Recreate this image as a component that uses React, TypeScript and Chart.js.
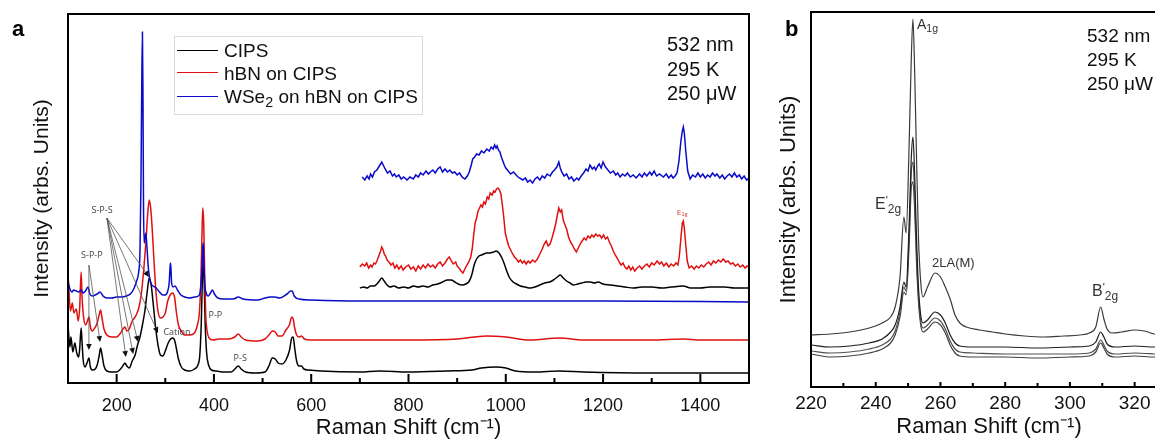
import React, { useEffect, useRef } from 'react';
import { Chart, registerables } from 'chart.js';

Chart.register(...registerables);

const FONT = "'Liberation Sans', Arial, Helvetica, sans-serif";
const SMALL_FONT = "'Open Sans', 'Liberation Sans', sans-serif";

// ---------------- Panel a: Raman spectra (100-1500 cm-1) ----------------
const panelATicks = [200, 400, 600, 800, 1000, 1200, 1400];
const panelAMinorTicks = [100, 300, 500, 700, 900, 1100, 1300, 1500];

const cipsShift = [100,104,106,110,114,118,122,124,127,129,131,135,139,143,146,150,156,160,164,167,170,174,180,190,200,208,214,217,221,226,232,238,243,248,253,258,263,267,271,275,280,285,290,295,300,306,311,315,319,323,327,333,340,350,360,367,371,374,376,378,380,382,385,389,395,405,420,435,443,450,456,465,485,505,513,520,526,532,540,548,555,560,563,566,570,575,580,585,595,620,700,740,800,880,930,950,980,1000,1020,1060,1110,1160,1300,1500];
const cipsIntensity = [58,36,46,31,40,30,26,34,55,40,24,16,20,25,16,13,14,18,27,35,28,17,12,11,11,14,18,20,17,15,22,28,38,46,58,72,92,105,98,80,56,38,28,27,32,40,44,45,43,34,24,16,13,12,14,18,28,60,100,122,100,60,30,18,13,12,11,11,14,17,14,11,10,11,17,25,24,20,19,23,32,45,46,35,22,17,17,14,13,12,11,12,11,12,13,15,16,15,12,11,12,11,10,10];

const hbnShift = [100,102,105,109,112,117,121,124,127,129,132,136,140,143,146,150,155,160,164,167,170,174,180,190,200,208,213,217,221,226,232,238,242,246,251,256,260,264,267,270,273,277,281,285,290,295,300,305,310,315,319,323,327,333,340,350,360,366,370,373,375,377,379,381,383,386,390,398,410,430,443,450,456,465,490,505,513,520,526,532,540,548,555,560,563,566,570,575,580,586,600,700,800,900,960,1000,1050,1110,1160,1300,1365,1400,1500];
const hbnIntensity = [110,92,72,80,70,74,62,75,111,85,66,58,62,66,56,52,55,60,68,73,65,54,48,46,46,50,54,56,52,54,62,66,70,76,90,115,140,170,183,175,155,120,90,72,65,66,70,82,88,90,86,70,58,52,48,48,50,58,70,100,140,175,160,110,70,52,45,43,44,44,46,49,46,43,42,44,48,52,51,47,47,53,58,66,64,55,48,46,47,44,43,43,43,44,47,46,43,45,43,43,44,43,43];

const wse2Shift = [100,104,108,112,117,122,127,131,136,141,145,150,156,160,166,172,180,190,200,210,220,230,236,241,245,248,250,251.5,253,254.2,255.2,256.5,258.5,260,262,265,270,275,281,288,295,300,305,308,310,311,313,316,320,325,332,340,350,360,368,372,375,377,378,379,381,384,388,393,397,401,408,420,440,450,460,490,505,515,525,535,550,558,561,565,575,600,700,800,900,1000,1200,1500];
const wse2Intensity = [101,94,91,93,92,91,93,90,92,96,89,87,88,89,91,87,85,85,86,86,87,90,95,102,110,132,200,290,351,280,180,140,146,150,138,116,100,97,95,91,88,88,92,100,117,120,100,96,97,93,88,86,85,86,87,92,110,135,140,125,100,90,87,90,93,89,85,84,84,86,84,83,85,86,86,85,89,92,92,87,84,83,82,82,82,82,82,81];

// magnified (offset) high-wavenumber insets
const cipsInsetShift = [700,708,715,722,730,735,740,745,750,756,762,770,780,790,800,810,820,830,840,850,860,870,880,888,895,902,910,918,925,930,935,940,945,950,955,960,967,975,980,986,992,997,1002,1008,1015,1022,1030,1040,1050,1060,1070,1080,1090,1098,1106,1112,1118,1125,1132,1139,1148,1156,1165,1174,1182,1190,1200,1215,1230,1245,1263,1280,1300,1320,1340,1365,1380,1400,1420,1450,1470,1500];
const cipsInsetIntensity = [95,96,95,97,97,99,102,105,102,98,96,97,95,96,95,97,96,97,96,98,99,101,103,103,101,99,98,99,102,108,118,124,127,128,129,130,130,131,132,130,125,119,112,105,101,99,97,96,95,96,98,100,101,103,106,108,105,102,100,98,99,100,101,101,100,101,99,98,97,96,95,96,96,95,96,97,95,95,96,96,95,95];

const hbnInsetShift = [700,705,710,714,718,722,725,729,732,735,738,742,745,748,750,753,756,760,764,768,772,776,780,785,789,794,800,805,810,815,820,825,830,835,840,845,850,855,860,865,870,875,880,884,888,892,897,900,904,908,912,916,920,924,928,931,934,937,940,943,946,949,952,955,958,962,965,968,972,975,978,981,984,987,990,993,996,999,1002,1006,1010,1014,1018,1022,1026,1030,1034,1038,1042,1046,1050,1055,1060,1065,1070,1075,1079,1083,1087,1091,1095,1099,1103,1106,1109,1112,1115,1118,1121,1125,1129,1133,1137,1141,1145,1149,1153,1157,1161,1165,1169,1173,1177,1181,1185,1189,1193,1197,1201,1205,1209,1213,1217,1221,1225,1229,1233,1237,1241,1245,1249,1253,1257,1261,1265,1270,1275,1280,1285,1290,1295,1300,1305,1311,1316,1320,1325,1330,1335,1340,1345,1350,1354,1357,1360,1363,1365,1367,1370,1373,1377,1382,1387,1392,1397,1402,1407,1412,1417,1422,1427,1432,1437,1442,1447,1452,1457,1462,1467,1472,1477,1482,1487,1492,1496,1500];
const hbnInsetIntensity = [116,119,117,120,115,118,116,120,119,122,126,131,136,133,129,127,123,121,118,120,115,118,114,117,113,116,118,114,116,112,117,114,118,115,119,116,118,115,119,121,117,120,124,126,122,119,121,117,115,112,110,114,118,121,126,134,148,160,165,172,175,178,176,181,179,186,184,190,188,192,191,194,195,193,189,178,165,150,144,137,133,129,126,124,121,123,120,122,119,122,120,123,121,124,129,134,139,142,137,139,145,152,160,168,175,171,173,163,159,154,146,141,138,134,131,135,139,142,145,143,147,145,148,146,149,147,148,145,148,144,146,141,137,132,128,125,121,118,120,116,114,117,113,116,112,115,117,114,117,119,116,120,118,122,119,121,117,120,116,119,117,120,118,128,145,160,162,155,138,122,115,117,114,117,115,118,116,119,121,118,122,120,123,121,124,121,122,119,120,117,119,116,118,115,117,116];

const wse2InsetShift = [705,710,715,719,722,726,730,735,740,745,749,752,757,762,767,771,775,780,785,790,797,803,810,815,820,825,830,836,841,845,850,855,860,865,870,875,880,885,890,895,900,905,910,916,921,925,929,932,936,940,945,950,955,961,966,970,974,977,980,982,985,988,991,994,997,1000,1005,1010,1016,1023,1028,1035,1040,1045,1050,1055,1060,1065,1070,1075,1080,1085,1091,1096,1100,1105,1109,1112,1115,1120,1125,1130,1135,1140,1146,1150,1155,1160,1165,1169,1173,1178,1182,1185,1189,1192,1196,1200,1205,1210,1215,1221,1226,1230,1235,1240,1245,1250,1256,1262,1268,1275,1280,1285,1290,1296,1300,1305,1310,1316,1324,1330,1335,1340,1344,1348,1352,1356,1360,1363,1365,1367,1370,1374,1379,1384,1390,1395,1400,1405,1410,1415,1420,1425,1430,1434,1440,1445,1450,1455,1460,1465,1470,1475,1480,1485,1490,1495,1500];
const wse2InsetIntensity = [206,203,207,204,209,206,211,213,217,221,217,214,210,212,207,209,206,208,204,206,203,206,204,208,206,210,208,212,209,211,213,210,214,216,211,214,211,213,210,211,208,210,206,204,207,211,218,224,226,229,228,232,230,234,232,236,234,238,235,237,233,231,226,222,218,215,212,209,211,207,205,203,205,201,203,200,204,206,203,207,205,209,207,211,213,216,221,215,211,207,209,204,206,202,205,203,207,210,214,212,218,214,216,213,217,219,215,221,216,213,210,212,208,210,206,209,207,210,206,208,205,209,206,210,207,211,208,212,207,209,206,209,205,208,205,207,210,222,242,252,256,250,232,212,204,208,206,210,206,209,205,208,206,210,207,209,205,208,204,207,209,206,210,206,208,204,207,203,205];

// peak labels and arrows of panel a (data coordinates)
const peakLabelText = ['S-P-S', 'S-P-P', 'Cation', 'P-P', 'P-S'];
const peakLabelShift = [170, 149, 324, 403, 454];
const peakLabelIntensity = [173, 128, 51, 68, 24.5];
const arrowFromShift = [143, 143, 180, 180, 180, 180, 180];
const arrowFromIntensity = [118, 118, 165, 165, 165, 165, 165];
const arrowToShift = [143, 166, 219, 234, 244, 266.5, 285];
const arrowToIntensity = [33, 41, 26, 29, 41, 106, 50];

// ---------------- Panel b: WSe2 detail (220-330 cm-1) ----------------
const panelBTicks = [220, 240, 260, 280, 300, 320];
const panelBMinorTicks = [230, 250, 270, 290, 310, 330];

const bShiftTop = [220,226,232,238,242,244.6,246,247.5,248.7,249.4,250.3,251,251.5,252,252.6,253.2,253.9,254.6,256,258.3,260,261.5,263,264.5,266,268,272,276,280,286,292,298,303,306,308,309.5,310.5,311.5,313,316,320,323,326,330];
const bIntensityTop = [52,53,55,59,64,70,80,110,170,154,240,330,368,320,230,150,105,90,100,114,110,100,88,72,64,60,57,55,53,51,50,51,52,54,60,80,68,58,54,55,57,56,53,51];

const bShiftLower = [220,226,232,238,242,244.6,246,247.5,248.7,249.4,250.3,251,251.5,252,252.6,253.2,253.9,254.6,256,258.3,260,261.5,263,264.5,266,270,280,290,300,306,308,309.5,310.5,311.5,314,320,326,330];
const bIntensity2 = [42,40,41,44,48,55,62,80,105,100,160,230,250,215,150,100,72,64,67,75,72,64,52,44,41,40,40,39,40,41,45,55,50,43,40,41,40,40];
const bIntensity3 = [36,34,35,38,42,48,56,75,100,96,150,215,225,195,135,92,66,59,62,69,66,58,46,38,35,34,33,33,33,34,38,47,42,36,33,34,33,32];
const bIntensity4 = [33,30,31,34,38,44,52,70,95,92,140,200,205,180,125,86,62,55,58,65,62,54,42,34,31,30,30,29,30,31,35,44,39,33,30,31,30,30];

const BLACK = '#000000';
const RED = '#e01010';
const BLUE = '#0a0ac8';

const pts = (xs: number[], ys: number[]) => xs.map((x, i) => ({ x, y: ys[i] }));

const line = (label: string, xs: number[], ys: number[], color: string, order: number, width = 1.5, smooth = true) => ({
  label,
  data: pts(xs, ys),
  borderColor: color,
  backgroundColor: color,
  borderWidth: width,
  pointRadius: 0,
  fill: false,
  tension: 0,
  cubicInterpolationMode: smooth ? ('monotone' as const) : ('default' as const),
  order,
});

const framePlugin = (major: number[], minor: number[], majorLen: number, minorLen: number) => ({
  id: 'frameTicks',
  afterDatasetsDraw(chart: any) {
    const { ctx, chartArea } = chart;
    const { left, top, right, bottom } = chartArea;
    const xs = chart.scales.x;
    ctx.save();
    ctx.strokeStyle = '#000';
    ctx.lineWidth = 2;
    ctx.strokeRect(left, top, right - left, bottom - top);
    ctx.beginPath();
    major.forEach((v) => {
      const p = xs.getPixelForValue(v);
      ctx.moveTo(p, bottom);
      ctx.lineTo(p, bottom - majorLen);
    });
    minor.forEach((v) => {
      const p = xs.getPixelForValue(v);
      ctx.moveTo(p, bottom);
      ctx.lineTo(p, bottom - minorLen);
    });
    ctx.stroke();
    ctx.restore();
  },
});

const annotationPlugin = {
  id: 'peakAnnotations',
  afterDatasetsDraw(chart: any) {
    const { ctx } = chart;
    const xs = chart.scales.x;
    const ys = chart.scales.y;
    ctx.save();
    arrowFromShift.forEach((fx, i) => {
      const x0 = xs.getPixelForValue(fx);
      const y0 = ys.getPixelForValue(arrowFromIntensity[i]);
      const x1 = xs.getPixelForValue(arrowToShift[i]);
      const y1 = ys.getPixelForValue(arrowToIntensity[i]);
      const ang = Math.atan2(y1 - y0, x1 - x0);
      const hl = 6;
      const bx = x1 - hl * Math.cos(ang);
      const by = y1 - hl * Math.sin(ang);
      ctx.strokeStyle = '#555';
      ctx.lineWidth = 0.8;
      ctx.beginPath();
      ctx.moveTo(x0, y0);
      ctx.lineTo(bx, by);
      ctx.stroke();
      ctx.fillStyle = '#111';
      ctx.beginPath();
      ctx.moveTo(x1, y1);
      ctx.lineTo(bx + 2.8 * Math.sin(ang), by - 2.8 * Math.cos(ang));
      ctx.lineTo(bx - 2.8 * Math.sin(ang), by + 2.8 * Math.cos(ang));
      ctx.closePath();
      ctx.fill();
    });
    ctx.fillStyle = '#444';
    ctx.font = `9px ${SMALL_FONT}`;
    ctx.textAlign = 'center';
    ctx.textBaseline = 'middle';
    peakLabelText.forEach((t, i) => {
      ctx.fillText(t, xs.getPixelForValue(peakLabelShift[i]), ys.getPixelForValue(peakLabelIntensity[i]));
    });
    const ex = xs.getPixelForValue(1362);
    const ey = ys.getPixelForValue(170);
    ctx.fillStyle = '#d03030';
    ctx.font = `8px ${SMALL_FONT}`;
    ctx.textAlign = 'left';
    ctx.fillText('E', ex - 5, ey);
    ctx.font = `5px ${SMALL_FONT}`;
    ctx.fillText('2g', ex, ey + 2);
    ctx.restore();
  },
};

const plainTick = (v: any) => String(v);

function PanelA() {
  const ref = useRef<HTMLCanvasElement | null>(null);
  useEffect(() => {
    if (!ref.current) return;
    const chart = new Chart(ref.current, {
      type: 'line',
      data: {
        datasets: [
          line('CIPS', cipsShift, cipsIntensity, BLACK, 2),
          line('hBN on CIPS', hbnShift, hbnIntensity, RED, 1),
          line('WSe2 on hBN on CIPS', wse2Shift, wse2Intensity, BLUE, 0),
          line('CIPS (x)', cipsInsetShift, cipsInsetIntensity, BLACK, 2, 1.5, true),
          line('hBN on CIPS (x)', hbnInsetShift, hbnInsetIntensity, RED, 1, 1.5, false),
          line('WSe2 on hBN on CIPS (x)', wse2InsetShift, wse2InsetIntensity, BLUE, 0, 1.5, false),
        ],
      },
      options: {
        responsive: false,
        animation: false,
        devicePixelRatio: 1,
        layout: { padding: { left: 0, top: 14, right: 11, bottom: 0 } },
        plugins: { legend: { display: false }, tooltip: { enabled: false } },
        scales: {
          x: {
            type: 'linear',
            min: 100,
            max: 1500,
            grid: { display: false, drawTicks: false },
            border: { display: false },
            afterBuildTicks: (s: any) => {
              s.ticks = panelATicks.map((v) => ({ value: v }));
            },
            afterFit: (s: any) => {
              s.height = 56;
            },
            ticks: { color: '#111', font: { size: 18, family: FONT }, padding: 12, maxRotation: 0, autoSkip: false, callback: plainTick },
            title: {
              display: true,
              text: 'Raman Shift (cm⁻¹)',
              color: '#111',
              font: { size: 22, family: FONT },
              padding: { top: 0, bottom: -2 },
            },
          },
          y: {
            type: 'linear',
            min: 0,
            max: 369,
            grid: { display: false, drawTicks: false },
            border: { display: false },
            ticks: { display: false },
            afterFit: (s: any) => {
              s.width = 68;
            },
            title: {
              display: true,
              text: 'Intensity (arbs. Units)',
              color: '#111',
              font: { size: 21, family: FONT },
              padding: { top: 30, bottom: 0 },
            },
          },
        },
      },
      plugins: [framePlugin(panelATicks, panelAMinorTicks, 9, 5), annotationPlugin],
    } as any);
    return () => chart.destroy();
  }, []);
  return <canvas ref={ref} width={760} height={439} style={{ position: 'absolute', left: 0, top: 0 }} />;
}

function PanelB() {
  const ref = useRef<HTMLCanvasElement | null>(null);
  useEffect(() => {
    if (!ref.current) return;
    const chart = new Chart(ref.current, {
      type: 'line',
      data: {
        datasets: [
          line('spectrum 1', bShiftTop, bIntensityTop, '#3a3a3a', 3, 1.2),
          line('spectrum 2', bShiftLower, bIntensity2, '#1e1e1e', 0, 1.2),
          line('spectrum 3', bShiftLower, bIntensity3, '#505050', 1, 1.2),
          line('spectrum 4', bShiftLower, bIntensity4, '#404040', 2, 1.2),
        ],
      },
      options: {
        responsive: false,
        animation: false,
        devicePixelRatio: 1,
        layout: { padding: { left: 0, top: 12, right: 13, bottom: 0 } },
        plugins: { legend: { display: false }, tooltip: { enabled: false } },
        scales: {
          x: {
            type: 'linear',
            min: 220,
            max: 330,
            grid: { display: false, drawTicks: false },
            border: { display: false },
            afterBuildTicks: (s: any) => {
              s.ticks = panelBTicks.map((v) => ({ value: v }));
            },
            afterFit: (s: any) => {
              s.height = 52;
            },
            ticks: { color: '#111', font: { size: 19, family: FONT }, padding: 5, maxRotation: 0, autoSkip: false, callback: plainTick },
            title: {
              display: true,
              text: 'Raman Shift (cm⁻¹)',
              color: '#111',
              font: { size: 22, family: FONT },
              padding: { top: 0, bottom: -1 },
            },
          },
          y: {
            type: 'linear',
            min: 0,
            max: 375,
            grid: { display: false, drawTicks: false },
            border: { display: false },
            ticks: { display: false },
            afterFit: (s: any) => {
              s.width = 51;
            },
            title: {
              display: true,
              text: 'Intensity (arbs. Units)',
              color: '#111',
              font: { size: 22, family: FONT },
              padding: { top: 16, bottom: 0 },
            },
          },
        },
      },
      plugins: [framePlugin(panelBTicks, panelBMinorTicks, 5, 4)],
    } as any);
    return () => chart.destroy();
  }, []);
  return <canvas ref={ref} width={420} height={439} style={{ position: 'absolute', left: 760, top: 0 }} />;
}

const abs = (left: number, top: number, size: number, extra: React.CSSProperties = {}): React.CSSProperties => ({
  position: 'absolute',
  left,
  top,
  fontSize: size,
  lineHeight: 1,
  fontFamily: FONT,
  color: '#111',
  whiteSpace: 'nowrap',
  ...extra,
});

const subStyle: React.CSSProperties = { fontSize: '0.75em', position: 'relative', top: '0.3em' };
const supStyle: React.CSSProperties = { fontSize: '0.7em', position: 'relative', top: '-0.45em' };

const legendEntries = [
  { color: BLACK, label: <>CIPS</> },
  { color: RED, label: <>hBN on CIPS</> },
  { color: BLUE, label: <>WSe<span style={subStyle}>2</span> on hBN on CIPS</> },
];
const legendLineY = [50, 72, 96];
const legendTextTop = [41, 64, 87];
const conditions = ['532 nm', '295 K', '250 μW'];

export default function App() {
  return (
    <div style={{ position: 'fixed', left: 0, top: 0, width: 1155, height: 439, overflow: 'hidden', background: '#fff' }}>
      <PanelA />
      <PanelB />
      <div style={abs(12, 18, 22, { fontWeight: 'bold', color: '#000' })}>a</div>
      <div style={abs(785, 18, 22, { fontWeight: 'bold', color: '#000' })}>b</div>
      <div style={{ position: 'absolute', left: 174, top: 36, width: 247, height: 77, border: '1px solid #dcdcdc', background: 'rgba(255,255,255,0.9)' }} />
      {legendEntries.map((e, i) => (
        <React.Fragment key={i}>
          <div style={{ position: 'absolute', left: 177, top: legendLineY[i], width: 41, borderTop: `1.5px solid ${e.color}` }} />
          <div style={abs(224, legendTextTop[i], 19)}>{e.label}</div>
        </React.Fragment>
      ))}
      {conditions.map((c, i) => (
        <div key={'a' + i} style={abs(667, 34 + i * 24.5, 20)}>{c}</div>
      ))}
      {conditions.map((c, i) => (
        <div key={'b' + i} style={abs(1087, 26 + i * 24, 19)}>{c}</div>
      ))}
      <div style={abs(917, 17, 14, { color: '#333' })}>A<span style={subStyle}>1g</span></div>
      <div style={abs(875, 196, 16, { color: '#333' })}>E<span style={supStyle}>'</span><span style={subStyle}>2g</span></div>
      <div style={abs(932, 256, 13, { color: '#333' })}>2LA(M)</div>
      <div style={abs(1092, 283, 16, { color: '#333' })}>B<span style={supStyle}>'</span><span style={subStyle}>2g</span></div>
    </div>
  );
}
